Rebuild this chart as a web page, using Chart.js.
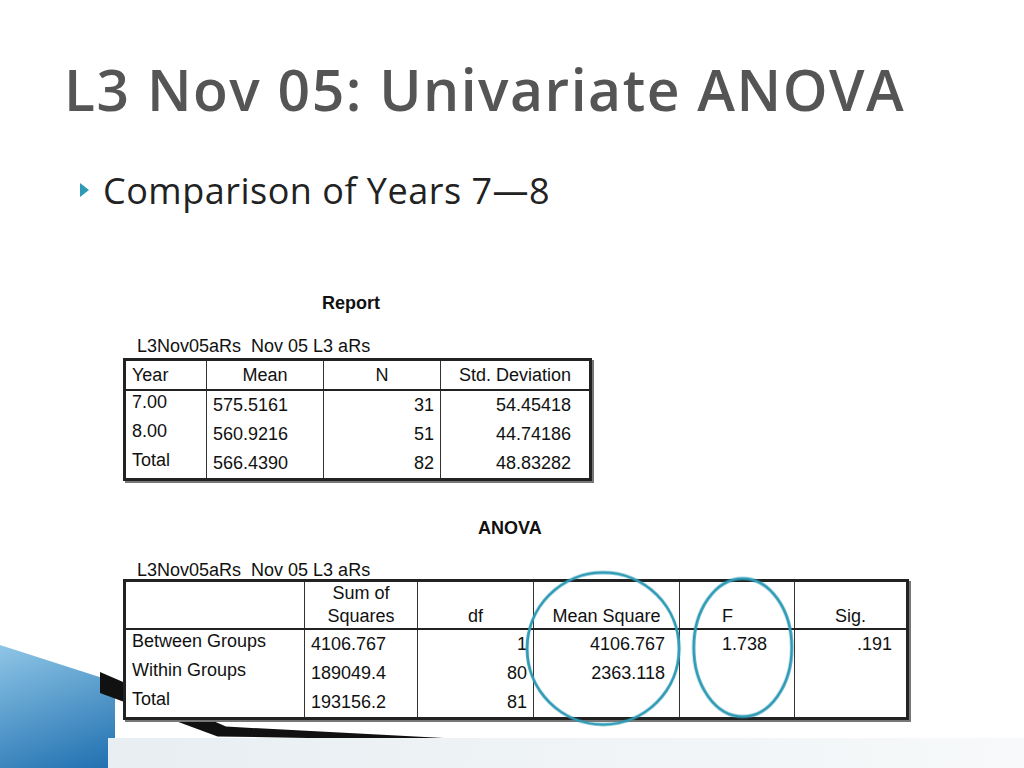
<!DOCTYPE html>
<html><head><meta charset="utf-8">
<script src="https://cdn.jsdelivr.net/npm/chart.js@4/dist/chart.umd.min.js"></script>
<style>
body{margin:0;width:1024px;height:768px;overflow:hidden;background:#fff;position:relative;font-family:"Liberation Sans",Arial,sans-serif}
.abs{position:absolute}
#title{left:64px;top:50px;font-family:"Open Sans","Noto Sans",sans-serif;font-size:57px;color:#555;letter-spacing:1.5px;font-weight:600}
#bullet{left:80px;top:183px;width:0;height:0;border-left:9px solid #2e9ab5;border-top:7px solid transparent;border-bottom:7px solid transparent}
#sub{left:103px;top:166px;font-family:"Open Sans","Noto Sans",sans-serif;font-size:36px;color:#222;letter-spacing:0.5px}
.cap{font-size:18px;font-weight:bold;color:#111}
.lbl{font-size:18px;color:#111}
table{border-collapse:collapse;font-size:18px;color:#111;position:absolute;background:#fff}
td{padding:0 6px;height:29px;line-height:29px;white-space:nowrap}
.r{text-align:right}
#rep{left:123px;top:358px;width:469px;border:3px solid #222;box-shadow:2px 2px 0 #777}
#rep td{border-left:1px solid #333}
#rep td:first-child{border-left:none}
#rep tr.h td{border-bottom:2px solid #222;height:28px;line-height:28px}
#ano{left:123px;top:579px;width:786px;border:3px solid #222;box-shadow:2px 2px 0 #777}
#ano td{border-left:1px solid #333;height:29px}
#ano td:first-child{border-left:none}
#ano tr.h2 td{border-bottom:2px solid #222;height:24px;line-height:24px}
#ano tr.h1 td{height:22px;line-height:22px}
#swoosh{left:0;top:645px;width:115px;height:123px;background:linear-gradient(160deg,#8fc6e6,#1f6fb0);clip-path:polygon(0 0,100% 30%,100% 100%,0 100%)}
#band{left:108px;top:738px;width:916px;height:30px;background:linear-gradient(90deg,#e8eef2,#f7f9fa)}
#dark{left:100px;top:672px;width:420px;height:70px;background:#111;clip-path:polygon(0 0,30% 78%,100% 100%,100% 100%,28% 92%,0 30%)}
#ov{left:0;top:0;width:1024px;height:768px}
</style></head><body>
<div class="abs" id="swoosh"></div>
<div class="abs" id="dark"></div>
<div class="abs" id="band"></div>
<div class="abs" id="title">L3 Nov 05: Univariate ANOVA</div>
<div class="abs" id="bullet"></div>
<div class="abs" id="sub">Comparison of Years 7—8</div>
<div class="abs cap" style="left:322px;top:293px">Report</div>
<div class="abs lbl" style="left:137px;top:336px">L3Nov05aRs&nbsp; Nov 05 L3 aRs</div>
<table id="rep"></table>
<div class="abs cap" style="left:478px;top:518px">ANOVA</div>
<div class="abs lbl" style="left:137px;top:560px">L3Nov05aRs&nbsp; Nov 05 L3 aRs</div>
<table id="ano"></table>
<canvas id="ov" class="abs" width="1024" height="768"></canvas>
<script>
const repHead = ['Year', 'Mean', 'N', 'Std. Deviation'];
const repYears = ['7.00', '8.00', 'Total'];
const repMean = ['575.5161', '560.9216', '566.4390'];
const repN = ['31', '51', '82'];
const repSd = ['54.45418', '44.74186', '48.83282'];

const anoRows = ['Between Groups', 'Within Groups', 'Total'];
const anoSS = ['4106.767', '189049.4', '193156.2'];
const anoDf = ['1', '80', '81'];
const anoMS = ['4106.767', '2363.118', ''];
const anoF = ['1.738', '', ''];
const anoSig = ['.191', '', ''];

// highlight circles: centre x, centre y, radius x, radius y
const ringX = [604, 745];
const ringY = [652, 651];
const ringRx = [76, 49];
const ringRy = [76, 69];

let rep = document.getElementById('rep');
let h = '<tr class="h"><td style="width:68px">' + repHead[0] + '</td><td style="text-align:center;width:104px">' + repHead[1] +
  '</td><td style="text-align:center;width:104px">' + repHead[2] + '</td><td style="text-align:center">' + repHead[3] + '</td></tr>';
for (let i = 0; i < repYears.length; i++) {
  h += '<tr><td style="vertical-align:top;line-height:22px">' + repYears[i] + '</td><td>' + repMean[i] + '</td><td class="r">' + repN[i] +
    '</td><td class="r" style="padding-right:18px">' + repSd[i] + '</td></tr>';
}
rep.innerHTML = h;

let ano = document.getElementById('ano');
let a = '<tr class="h1"><td style="width:166px"></td><td style="text-align:center;width:100px">Sum of</td><td style="width:103px"></td><td style="width:133px"></td><td style="width:102px"></td><td></td></tr>';
a += '<tr class="h2"><td></td><td style="text-align:center">Squares</td><td style="text-align:center">df</td><td style="text-align:center">Mean Square</td><td style="padding-left:42px">F</td><td class="r" style="padding-right:40px">Sig.</td></tr>';
for (let i = 0; i < anoRows.length; i++) {
  a += '<tr><td style="line-height:22px;vertical-align:top">' + anoRows[i] + '</td><td>' + anoSS[i] + '</td><td class="r">' + anoDf[i] +
    '</td><td class="r" style="padding-right:14px">' + anoMS[i] + '</td><td style="padding-left:42px">' + anoF[i] + '</td><td class="r" style="padding-right:14px">' + anoSig[i] + '</td></tr>';
}
ano.innerHTML = a;

function ellipse(rx, ry) {
  let c = document.createElement('canvas');
  c.width = rx * 2 + 6; c.height = ry * 2 + 6;
  let g = c.getContext('2d');
  g.strokeStyle = '#2e9ab5'; g.lineWidth = 3;
  g.beginPath(); g.ellipse(rx + 3, ry + 3, rx, ry, 0, 0, Math.PI * 2); g.stroke();
  return c;
}

new Chart(document.getElementById('ov'), {
  type: 'scatter',
  data: {
    datasets: [{
      data: ringX.map((x, i) => ({ x: x, y: ringY[i] })),
      pointStyle: ringX.map((x, i) => ellipse(ringRx[i], ringRy[i]))
    }]
  },
  options: {
    responsive: false, animation: false, events: [],
    devicePixelRatio: 1,
    layout: { padding: 0 },
    plugins: { legend: { display: false }, tooltip: { enabled: false } },
    scales: {
      x: { type: 'linear', min: 0, max: 1024, display: false },
      y: { type: 'linear', min: 0, max: 768, reverse: true, display: false }
    }
  }
});
</script>
</body></html>
